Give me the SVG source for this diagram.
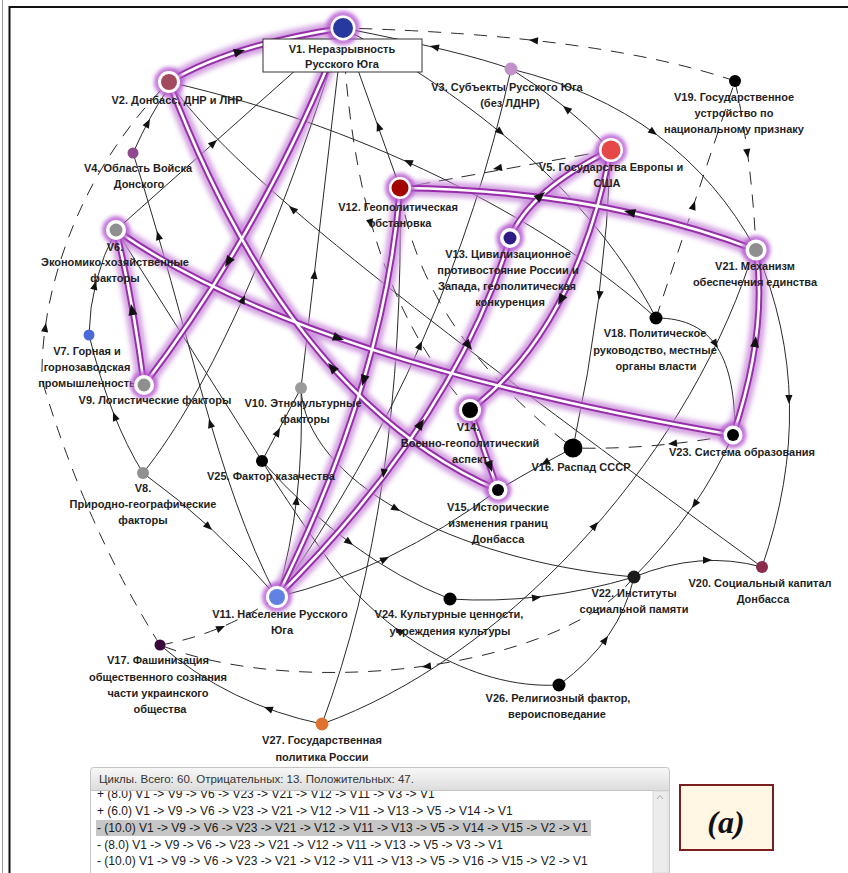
<svg xmlns="http://www.w3.org/2000/svg" xmlns:xlink="http://www.w3.org/1999/xlink" width="848" height="873" viewBox="0 0 848 873">
<defs>
<style>
.e{fill:none;stroke:#2a2a2a;stroke-width:1}
.d{stroke-dasharray:13 10}
.hg{fill:none;stroke:#c88ad9;stroke-width:15;stroke-opacity:.8}
.hc{fill:none;stroke:#952ea8;stroke-width:6.5}
.hw{fill:none;stroke:#fff;stroke-width:2.6}
.ar{fill:#111}
.lbl{font-family:"Liberation Sans","DejaVu Sans",Arial,sans-serif;font-size:11px;font-weight:bold;fill:#1f1f1f;text-anchor:middle}
.halo{fill:none;stroke:#b65ad0;stroke-width:5}
.ring{fill:#fff}
.row{font-family:"Liberation Sans","DejaVu Sans",Arial,sans-serif;font-size:12px;fill:#1a1a1a}
.hdt{font-family:"Liberation Sans","DejaVu Sans",Arial,sans-serif;font-size:11.5px;fill:#333}
</style>
<filter id="blur" x="-20%" y="-20%" width="140%" height="140%"><feGaussianBlur stdDeviation="2.8"/></filter>
<filter id="nblur" x="-50%" y="-50%" width="200%" height="200%"><feGaussianBlur stdDeviation="2"/></filter>
<path id="ah" d="M0,0 L-9,-3.6 L-9,3.6 Z"/>
<linearGradient id="hdr" x1="0" y1="0" x2="0" y2="1"><stop offset="0" stop-color="#f8f8f8"/><stop offset="1" stop-color="#dcdcdc"/></linearGradient>
<clipPath id="listclip"><rect x="91" y="791" width="561" height="82"/></clipPath>
<path id="h1" d="M169,82 Q230,45 343,28"/>
<path id="h2" d="M343,28 Q268,222 144,385"/>
<path id="h3" d="M144,385 Q133,300 116,230"/>
<path id="h4" d="M116,230 Q300,360 733,435"/>
<path id="h5" d="M733,435 Q768,330 756,250"/>
<path id="h6" d="M756,250 Q600,190 400,188"/>
<path id="h7" d="M400,188 Q385,380 277,597"/>
<path id="h8" d="M277,597 Q455,420 510,238"/>
<path id="h9" d="M510,238 Q530,190 611,150"/>
<path id="h10" d="M611,150 Q575,330 470,410"/>
<path id="h11" d="M470,410 L498,490"/>
<path id="h12" d="M498,490 Q290,400 169,82"/>
</defs>
<rect width="848" height="873" fill="#fff"/>
<line x1="2.5" y1="0" x2="2.5" y2="873" stroke="#9a9a9a" stroke-width="1"/>
<line x1="9" y1="7" x2="848" y2="7" stroke="#111" stroke-width="2"/>
<line x1="9.5" y1="6" x2="9.5" y2="873" stroke="#111" stroke-width="2"/>

<g id="connectors">
 <g id="thin">
  <path class="e" d="M511,69 Q465,52 343,28"/>
  <path class="e" d="M343,28 C430,75 580,170 656,318"/>
  <path class="e" d="M656,318 C560,230 380,130 169,82"/>
  <path class="e" d="M511,69 Q680,110 756,250"/>
  <path class="e" d="M611,150 Q565,102 511,69"/>
  <path class="e" d="M611,150 Q605,300 573,448"/>
  <path class="e d" d="M735,81 Q752,160 756,250" stroke="#555"/>
  <path class="e d" d="M656,318 L735,81" stroke="#555"/>
  <path class="e d" d="M735,81 Q600,35 343,28" stroke="#444"/>
  <path class="e d" d="M733,435 Q650,450 573,448" stroke="#444"/>
  <path class="e" d="M400,188 Q420,330 573,448" stroke="#111" stroke-width="2.6" stroke-dasharray="15 12"/>
  <path class="e d" d="M343,38 C350,150 370,300 470,410" stroke="#444"/>
  <path class="e" d="M400,188 L343,28" stroke="#c83030" stroke-width="1.3"/>
  <path class="e" d="M611,150 L400,188" stroke="#e03c3c" stroke-width="1.6" stroke-dasharray="14 9"/>
  <path class="e" d="M277,597 Q450,350 511,69" stroke="#6a88d8"/>
  <path class="e" d="M400,188 Q405,500 322,724" stroke="#b02a2a"/>
  <path class="e" d="M322,724 C500,660 680,470 750,262" stroke="#e0884a"/>
  <path class="e" d="M322,724 Q230,705 160,645" stroke="#e0884a"/>
  <path class="e d" d="M160,645 Q220,635 277,597" stroke="#7d8cc8" stroke-width="1.2"/>
  <path class="e d" d="M634,577 C560,670 300,700 160,645" stroke="#444"/>
  <path class="e" d="M559,685 Q620,640 634,577"/>
  <path class="e" d="M559,685 C470,690 380,630 330,562 C300,520 280,490 262,461 L116,230"/>
  <path class="e" d="M301,388 C305,480 450,560 634,577" stroke="#4f7f4f"/>
  <path class="e" d="M277,597 Q390,570 498,490" stroke="#3f6f3f"/>
  <path class="e" d="M262,461 Q350,560 450,599" stroke="#9a9a9a"/>
  <path class="e" d="M450,599 Q540,605 634,577"/>
  <path class="e" d="M634,577 Q700,550 762,567"/>
  <path class="e" d="M733,435 Q700,510 634,577" stroke="#444"/>
  <path class="e" d="M756,250 Q820,400 762,567"/>
  <path class="e" d="M656,318 C715,318 735,360 735,433"/>
  <path class="e" d="M169,82 C225,160 340,260 762,567" stroke="#8a5a6a" stroke-width=".9"/>
  <path class="e" d="M116,230 L343,28"/>
  <path class="e" d="M133,153 Q150,115 166,92"/>
  <path class="e" d="M277,597 C215,480 190,330 133,153"/>
  <path class="e" d="M143,473 C210,390 280,230 343,28"/>
  <path class="e" d="M143,473 Q215,525 277,597"/>
  <path class="e" d="M143,473 Q110,420 89,335"/>
  <path class="e" d="M89,335 Q90,280 116,230" stroke="#666"/>
  <path class="e" d="M262,461 L301,388"/>
  <path class="e" d="M301,388 L343,28"/>
  <path class="e" d="M277,597 Q305,500 301,388"/>
  <path class="e" d="M573,448 Q540,465 498,490"/>
  <path class="e d" d="M160,645 Q85,525 42,380 C40,290 80,170 169,82" stroke="#444"/>
 </g>
 <g id="cycle">
  <g class="hg" filter="url(#blur)">
   <use href="#h1"/><use href="#h2"/><use href="#h3"/><use href="#h4"/><use href="#h5"/><use href="#h6"/>
   <use href="#h7"/><use href="#h8"/><use href="#h9"/><use href="#h10"/><use href="#h11"/><use href="#h12"/>
  </g>
  <g class="hc">
   <use href="#h1"/><use href="#h2"/><use href="#h3"/><use href="#h4"/><use href="#h5"/><use href="#h6"/>
   <use href="#h7"/><use href="#h8"/><use href="#h9"/><use href="#h10"/><use href="#h11"/><use href="#h12"/>
  </g>
  <g class="hw">
   <use href="#h1"/><use href="#h2"/><use href="#h3"/><use href="#h4"/><use href="#h5"/><use href="#h6"/>
   <use href="#h7"/><use href="#h8"/><use href="#h9"/><use href="#h10"/><use href="#h11"/><use href="#h12"/>
  </g>
 </g>
 <g id="arrows" class="ar">
  <use href="#ah" transform="translate(245,50) rotate(-17) scale(1.25)"/>
  <use href="#ah" transform="translate(225,267) rotate(121.6) scale(1.25)"/>
  <use href="#ah" transform="translate(131,304) rotate(-100) scale(1.25)"/>
  <use href="#ah" transform="translate(344,340) rotate(19) scale(1.25)"/>
  <use href="#ah" transform="translate(756,336) rotate(-83) scale(1.25)"/>
  <use href="#ah" transform="translate(624,211) rotate(-168) scale(1.25)"/>
  <use href="#ah" transform="translate(362,386) rotate(106.7) scale(1.25)"/>
  <use href="#ah" transform="translate(424,419) rotate(-57) scale(1.25)"/>
  <use href="#ah" transform="translate(545,192) rotate(-41) scale(1.25)"/>
  <use href="#ah" transform="translate(558,305) rotate(118.5) scale(1.25)"/>
  <use href="#ah" transform="translate(492,472) rotate(70.7) scale(1.25)"/>
  <use href="#ah" transform="translate(328,363) rotate(-131) scale(1.25)"/>

  <use href="#ah" transform="translate(430,46) rotate(-167)"/>
  <use href="#ah" transform="translate(504,135) rotate(39.7)"/>
  <use href="#ah" transform="translate(404,160) rotate(-156)"/>
  <use href="#ah" transform="translate(657,135) rotate(36.5)"/>
  <use href="#ah" transform="translate(563,106) rotate(-141)"/>
  <use href="#ah" transform="translate(599,300) rotate(97)"/>
  <use href="#ah" transform="translate(748,158) rotate(82)"/>
  <use href="#ah" transform="translate(695,201) rotate(-71.6)"/>
  <use href="#ah" transform="translate(529,40) rotate(-174)"/>
  <use href="#ah" transform="translate(668,444) rotate(174)"/>
  <use href="#ah" transform="translate(472,350) rotate(52) scale(1.2)"/>
  <use href="#ah" transform="translate(372,228) rotate(74)"/>
  <use href="#ah" transform="translate(377,122) rotate(-109.6)"/>
  <use href="#ah" transform="translate(493,169) rotate(169.8)"/>
  <use href="#ah" transform="translate(422,341) rotate(-66)"/>
  <use href="#ah" transform="translate(383,478) rotate(98.3)"/>
  <use href="#ah" transform="translate(598,522) rotate(-49.3)"/>
  <use href="#ah" transform="translate(264,707) rotate(-159)"/>
  <use href="#ah" transform="translate(225,626) rotate(-23.5)"/>
  <use href="#ah" transform="translate(422,667) rotate(172.4)"/>
  <use href="#ah" transform="translate(608,636) rotate(-55)"/>
  <use href="#ah" transform="translate(395,628) rotate(-143)"/>
  <use href="#ah" transform="translate(400,511) rotate(29.4)"/>
  <use href="#ah" transform="translate(389,557) rotate(-25.8)"/>
  <use href="#ah" transform="translate(353,545) rotate(36.3)"/>
  <use href="#ah" transform="translate(541,597) rotate(-6.8)"/>
  <use href="#ah" transform="translate(712,560) rotate(-0.5)"/>
  <use href="#ah" transform="translate(692,508) rotate(125)"/>
  <use href="#ah" transform="translate(789,404) rotate(89)"/>
  <use href="#ah" transform="translate(718,348) rotate(57.8)"/>
  <use href="#ah" transform="translate(289,206) rotate(-139)"/>
  <use href="#ah" transform="translate(217,140) rotate(-41.7)"/>
  <use href="#ah" transform="translate(150,119) rotate(-61.6)"/>
  <use href="#ah" transform="translate(209,419) rotate(-106.4)"/>
  <use href="#ah" transform="translate(157,231) rotate(-106.2)"/>
  <use href="#ah" transform="translate(245,295) rotate(-66)"/>
  <use href="#ah" transform="translate(212,530) rotate(42.8)"/>
  <use href="#ah" transform="translate(113,412) rotate(-111.4)"/>
  <use href="#ah" transform="translate(96,281) rotate(-75.6)"/>
  <use href="#ah" transform="translate(280,428) rotate(-61.9)"/>
  <use href="#ah" transform="translate(315,270) rotate(-83.3)"/>
  <use href="#ah" transform="translate(297,496) rotate(-83.4)"/>
  <use href="#ah" transform="translate(541,465) rotate(151)"/>
  <use href="#ah" transform="translate(46,323) rotate(-81)"/>
 </g>
</g>

<g id="V1">
 <rect x="263" y="39" width="159" height="33" fill="#fff" stroke="#333" stroke-width="1"/>
 <text class="lbl" x="342" y="53">V1. Неразрывность</text>
 <text class="lbl" x="342" y="68">Русского Юга</text>
 <circle class="halo" cx="343" cy="28" r="14" filter="url(#nblur)"/>
 <circle class="ring" cx="343" cy="28" r="12.5"/>
 <circle cx="343" cy="28" r="10" fill="#27399e"/>
</g>
<g id="V2">
 <circle class="halo" cx="169" cy="82" r="12" filter="url(#nblur)"/>
 <circle class="ring" cx="169" cy="82" r="11"/>
 <circle cx="169" cy="82" r="8" fill="#a24a5e"/>
 <text class="lbl" x="177" y="104">V2. Донбасс, ДНР и ЛНР</text>
</g>
<g id="V3">
 <circle cx="511" cy="69" r="6.5" fill="#c291c9"/>
 <text class="lbl" x="507" y="91">V3. Субъекты Русского Юга</text>
 <text class="lbl" x="510" y="107">(без ЛДНР)</text>
</g>
<g id="V4">
 <circle cx="133" cy="153" r="5.5" fill="#8d4a8e"/>
 <text class="lbl" x="138" y="172">V4. Область Войска</text>
 <text class="lbl" x="139" y="188">Донского</text>
</g>
<g id="V5">
 <circle class="halo" cx="611" cy="150" r="13" filter="url(#nblur)"/>
 <circle class="ring" cx="611" cy="150" r="12"/>
 <circle cx="611" cy="150" r="9.5" fill="#e64848"/>
 <text class="lbl" x="611" y="171">V5. Государства Европы и</text>
 <text class="lbl" x="607" y="187">США</text>
</g>
<g id="V6">
 <circle class="halo" cx="116" cy="230" r="11" filter="url(#nblur)"/>
 <circle class="ring" cx="116" cy="230" r="10"/>
 <circle cx="116" cy="230" r="6.5" fill="#8f8f8f"/>
 <text class="lbl" x="115" y="251">V6.</text>
 <text class="lbl" x="115" y="266">Экономико-хозяйственные</text>
 <text class="lbl" x="115" y="282">факторы</text>
</g>
<g id="V7">
 <circle cx="89" cy="335" r="5.5" fill="#4a6ad8"/>
 <text class="lbl" x="87" y="355">V7. Горная и</text>
 <text class="lbl" x="87" y="371">горнозаводская</text>
 <text class="lbl" x="87" y="387">промышленность</text>
</g>
<g id="V8">
 <circle cx="143" cy="473" r="6" fill="#909090"/>
 <text class="lbl" x="143" y="492">V8.</text>
 <text class="lbl" x="143" y="508">Природно-географические</text>
 <text class="lbl" x="143" y="524">факторы</text>
</g>
<g id="V9">
 <circle class="halo" cx="144" cy="385" r="11" filter="url(#nblur)"/>
 <circle class="ring" cx="144" cy="385" r="10"/>
 <circle cx="144" cy="385" r="6.5" fill="#8f8f8f"/>
 <text class="lbl" x="155" y="404">V9. Логистические факторы</text>
</g>
<g id="V10">
 <circle cx="301" cy="388" r="6" fill="#9a9a9a"/>
 <text class="lbl" x="303" y="407">V10. Этнокультурные</text>
 <text class="lbl" x="305" y="423">факторы</text>
</g>
<g id="V11">
 <circle class="halo" cx="277" cy="597" r="12" filter="url(#nblur)"/>
 <circle class="ring" cx="277" cy="597" r="11"/>
 <circle cx="277" cy="597" r="8" fill="#6282e2"/>
 <text class="lbl" x="280" y="618">V11. Население Русского</text>
 <text class="lbl" x="282" y="634">Юга</text>
</g>
<g id="V12">
 <circle class="halo" cx="400" cy="188" r="12" filter="url(#nblur)"/>
 <circle class="ring" cx="400" cy="188" r="11"/>
 <circle cx="400" cy="188" r="8.5" fill="#a20404"/>
 <text class="lbl" x="398" y="211">V12. Геополитическая</text>
 <text class="lbl" x="400" y="227">обстановка</text>
</g>
<g id="V13">
 <circle class="halo" cx="510" cy="238" r="11" filter="url(#nblur)"/>
 <circle class="ring" cx="510" cy="238" r="10"/>
 <circle cx="510" cy="238" r="6.5" fill="#2c1c84"/>
 <text class="lbl" x="508" y="258">V13. Цивилизационное</text>
 <text class="lbl" x="508" y="274">противостояние России и</text>
 <text class="lbl" x="507" y="290">Запада, геополитическая</text>
 <text class="lbl" x="510" y="306">конкуренция</text>
</g>
<g id="V14">
 <circle class="halo" cx="470" cy="410" r="12" filter="url(#nblur)"/>
 <circle class="ring" cx="470" cy="410" r="11"/>
 <circle cx="470" cy="410" r="8" fill="#000"/>
 <text class="lbl" x="468" y="431">V14.</text>
 <text class="lbl" x="470" y="447">Военно-геополитический</text>
 <text class="lbl" x="470" y="463">аспект</text>
</g>
<g id="V15">
 <circle class="halo" cx="498" cy="490" r="10.5" filter="url(#nblur)"/>
 <circle class="ring" cx="498" cy="490" r="9.5"/>
 <circle cx="498" cy="490" r="6" fill="#000"/>
 <text class="lbl" x="498" y="511">V15. Исторические</text>
 <text class="lbl" x="498" y="527">изменения границ</text>
 <text class="lbl" x="498" y="543">Донбасса</text>
</g>
<g id="V16">
 <circle cx="573" cy="448" r="9.5" fill="#000"/>
 <text class="lbl" x="581" y="471">V16. Распад СССР</text>
</g>
<g id="V17">
 <circle cx="160" cy="645" r="5.5" fill="#3a0a3c"/>
 <text class="lbl" x="158" y="664">V17. Фашинизация</text>
 <text class="lbl" x="158" y="681">общественного сознания</text>
 <text class="lbl" x="158" y="697">части украинского</text>
 <text class="lbl" x="160" y="713">общества</text>
</g>
<g id="V18">
 <circle cx="656" cy="318" r="6.5" fill="#000"/>
 <text class="lbl" x="655" y="337">V18. Политическое</text>
 <text class="lbl" x="655" y="354">руководство, местные</text>
 <text class="lbl" x="656" y="370">органы власти</text>
</g>
<g id="V19">
 <circle cx="735" cy="81" r="6" fill="#000"/>
 <text class="lbl" x="734" y="101">V19. Государственное</text>
 <text class="lbl" x="734" y="117">устройство по</text>
 <text class="lbl" x="734" y="133">национальному признаку</text>
</g>
<g id="V20">
 <circle cx="762" cy="567" r="6" fill="#8c2c4c"/>
 <text class="lbl" x="760" y="587">V20. Социальный капитал</text>
 <text class="lbl" x="763" y="603">Донбасса</text>
</g>
<g id="V21">
 <circle class="halo" cx="756" cy="250" r="11.5" filter="url(#nblur)"/>
 <circle class="ring" cx="756" cy="250" r="10.5"/>
 <circle cx="756" cy="250" r="7" fill="#8f8f8f"/>
 <text class="lbl" x="755" y="270">V21. Механизм</text>
 <text class="lbl" x="755" y="286">обеспечения единства</text>
</g>
<g id="V22">
 <circle cx="634" cy="577" r="6.5" fill="#1a1a1a"/>
 <text class="lbl" x="634" y="597">V22. Институты</text>
 <text class="lbl" x="634" y="613">социальной памяти</text>
</g>
<g id="V23">
 <circle class="halo" cx="733" cy="435" r="10.5" filter="url(#nblur)"/>
 <circle class="ring" cx="733" cy="435" r="9.5"/>
 <circle cx="733" cy="435" r="6" fill="#000"/>
 <text class="lbl" x="742" y="456">V23. Система образования</text>
</g>
<g id="V24">
 <circle cx="450" cy="599" r="6.5" fill="#000"/>
 <text class="lbl" x="449" y="618">V24. Культурные ценности,</text>
 <text class="lbl" x="450" y="635">учреждения культуры</text>
</g>
<g id="V25">
 <circle cx="262" cy="461" r="6" fill="#000"/>
 <text class="lbl" x="271" y="480">V25. Фактор казачества</text>
</g>
<g id="V26">
 <circle cx="559" cy="685" r="6.5" fill="#000"/>
 <text class="lbl" x="558" y="702">V26. Религиозный фактор,</text>
 <text class="lbl" x="557" y="718">вероисповедание</text>
</g>
<g id="V27">
 <circle cx="322" cy="724" r="6.5" fill="#e0722f"/>
 <text class="lbl" x="322" y="744">V27. Государственная</text>
 <text class="lbl" x="322" y="761">политика России</text>
</g>

<g id="cycles-panel">
 <rect x="90.5" y="790.5" width="579" height="90" fill="#fff" stroke="#c4c4c4"/>
 <path d="M90.5,790.5 V770.5 Q90.5,767.5 93.5,767.5 H666.5 Q669.5,767.5 669.5,770.5 V790.5 Z" fill="url(#hdr)" stroke="#c4c4c4"/>
 <text class="hdt" x="99" y="783">Циклы. Всего: 60. Отрицательных: 13. Положительных: 47.</text>
 <rect x="653" y="791" width="15" height="82" fill="#ececec" stroke="#d8d8d8"/>
 <path d="M657,799 L660,795.5 L663,799" fill="none" stroke="#aaa" stroke-width="1"/>
 <g clip-path="url(#listclip)">
  <rect x="96" y="820" width="495" height="16" fill="#c6c6c6"/>
  <text class="row" x="97" y="798">+ (8.0) V1 -&gt; V9 -&gt; V6 -&gt; V23 -&gt; V21 -&gt; V12 -&gt; V11 -&gt; V3 -&gt; V1</text>
  <text class="row" x="97" y="815">+ (6.0) V1 -&gt; V9 -&gt; V6 -&gt; V23 -&gt; V21 -&gt; V12 -&gt; V11 -&gt; V13 -&gt; V5 -&gt; V14 -&gt; V1</text>
  <text class="row" x="97" y="832">- (10.0) V1 -&gt; V9 -&gt; V6 -&gt; V23 -&gt; V21 -&gt; V12 -&gt; V11 -&gt; V13 -&gt; V5 -&gt; V14 -&gt; V15 -&gt; V2 -&gt; V1</text>
  <text class="row" x="97" y="849">- (8.0) V1 -&gt; V9 -&gt; V6 -&gt; V23 -&gt; V21 -&gt; V12 -&gt; V11 -&gt; V13 -&gt; V5 -&gt; V3 -&gt; V1</text>
  <text class="row" x="97" y="865">- (10.0) V1 -&gt; V9 -&gt; V6 -&gt; V23 -&gt; V21 -&gt; V12 -&gt; V11 -&gt; V13 -&gt; V5 -&gt; V16 -&gt; V15 -&gt; V2 -&gt; V1</text>
  <text class="row" x="97" y="882">- (6.0) V1 -&gt; V9 -&gt; V6 -&gt; V23 -&gt; V21 -&gt; V12 -&gt; V11 -&gt; V4 -&gt; V2 -&gt; V1</text>
 </g>
</g>
<g id="tag-a">
 <rect x="680" y="785" width="93" height="65" fill="#fff6e4" stroke="#7a1f1f" stroke-width="2"/>
 <text x="726" y="833" font-family="'Liberation Serif','DejaVu Serif',serif" font-size="32" font-weight="bold" font-style="italic" text-anchor="middle" fill="#111">(a)</text>
</g>
</svg>
